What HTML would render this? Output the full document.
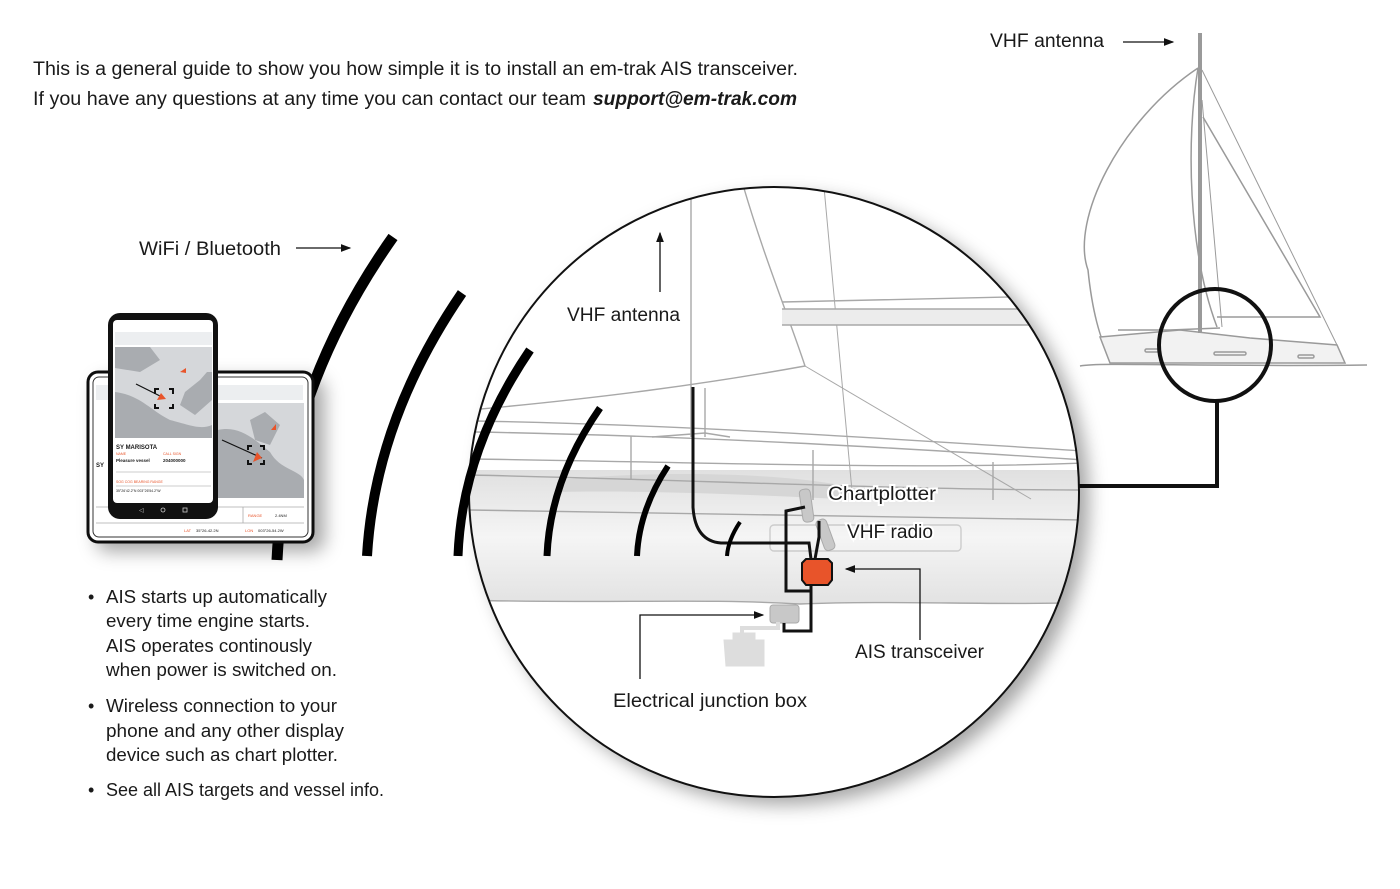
<!DOCTYPE html>
<html><head><meta charset="utf-8"><style>
html,body{margin:0;padding:0;background:#fff;}
svg{display:block;}
text{font-family:"Liberation Sans",sans-serif;fill:#1a1a1a;}
</style></head><body>
<svg width="1400" height="889" viewBox="0 0 1400 889" xmlns="http://www.w3.org/2000/svg">
<defs>
<clipPath id="cc"><circle cx="774" cy="492" r="305"/></clipPath>
<filter id="sh" x="-20%" y="-20%" width="150%" height="150%"><feDropShadow dx="10" dy="8" stdDeviation="9" flood-color="#000" flood-opacity="0.35"/></filter>
<linearGradient id="hull" x1="0" y1="0" x2="0" y2="1"><stop offset="0" stop-color="#e0e0e0"/><stop offset="0.5" stop-color="#f5f5f5"/><stop offset="1" stop-color="#e2e2e2"/></linearGradient>
<marker id="ah" markerWidth="8" markerHeight="6" refX="7" refY="3" orient="auto"><path d="M0,0 L8,3 L0,6z" fill="#111"/></marker>
</defs>

<text x="33" y="75" font-size="19" textLength="765" lengthAdjust="spacingAndGlyphs">This is a general guide to show you how simple it is to install an em-trak AIS transceiver.</text>
<text x="33" y="105" font-size="19" textLength="553" lengthAdjust="spacingAndGlyphs">If you have any questions at any time you can contact our team</text>
<text x="593" y="105" font-size="19" font-weight="bold" font-style="italic" textLength="204" lengthAdjust="spacingAndGlyphs">support@em-trak.com</text>

<text x="990" y="47" font-size="19" textLength="114" lengthAdjust="spacingAndGlyphs">VHF antenna</text>
<line x1="1123" y1="42" x2="1173" y2="42" stroke="#111" stroke-width="1.3" marker-end="url(#ah)"/>
<g fill="none" stroke="#9a9a9a" stroke-width="1.5">
<path d="M1198,68 C1120,120 1070,220 1088,270 C1092,310 1100,340 1110,357"/>
<path d="M1198,68 C1186,140 1188,250 1217,327"/>
<path d="M1203,117 L1320,317 L1217,317"/>
<path d="M1202,70 L1337,345" stroke-width="1"/>
<path d="M1202,100 L1222,327" stroke-width="1"/>
<path d="M1100,337 L1180,330 L1250,338 L1337,345 L1345,363 L1110,363 Z" fill="#f2f2f2"/>
<path d="M1118,330 L1170,330 L1220,328" />
<path d="M1080,366 C1100,362 1200,367 1367,365"/>
<rect x="1145" y="349" width="15" height="3" rx="1.5"/>
<rect x="1214" y="352" width="32" height="3" rx="1.5"/>
<rect x="1298" y="355" width="16" height="3" rx="1.5"/>
</g>
<rect x="1198" y="33" width="4" height="300" fill="#9a9a9a"/>
<circle cx="1215" cy="345" r="56" fill="none" stroke="#111" stroke-width="4"/>
<path d="M1217,401 L1217,486 L1070,486" fill="none" stroke="#111" stroke-width="4"/>

<circle cx="774" cy="492" r="305" fill="#fff" filter="url(#sh)"/>
<g clip-path="url(#cc)">
  <rect x="460" y="470" width="640" height="135" fill="url(#hull)"/>
  <path d="M460,600 C600,604 700,598 800,604 C900,600 1000,606 1100,602 L1100,800 L460,800Z" fill="#fff"/>
  <path d="M560,480 C650,470 800,472 860,490 L860,500 C760,495 640,490 560,492Z" fill="#d6d6d6"/>
  <g fill="none" stroke="#a8a8a8" stroke-width="1.4">
    <path d="M460,600 C600,604 700,598 800,604 C900,600 1000,606 1100,602"/>
    <path d="M476,421 C700,425 900,440 1085,451"/>
    <path d="M476,432 C700,436 900,448 1085,460"/>
    <path d="M470,459 C700,462 900,470 1085,463"/>
    <path d="M470,475 C700,480 900,490 1085,490"/>
    <path d="M470,510 C700,512 900,518 1085,520"/>
    <line x1="631" y1="436" x2="631" y2="480"/>
    <line x1="813" y1="450" x2="813" y2="500"/>
    <line x1="993" y1="462" x2="993" y2="500"/>
    <line x1="691" y1="180" x2="691" y2="437"/>
    <line x1="705" y1="388" x2="705" y2="437"/>
    <path d="M652,437 L705,433 L730,437"/>
    <path d="M743,185 C765,260 790,320 805,366 C700,385 600,398 470,410"/>
    <path d="M824,187 L852,491" stroke-width="1"/>
    <path d="M805,366 L1031,499" stroke-width="1"/>
    <rect x="770" y="525" width="191" height="26" rx="4" stroke="#ccc"/>
  </g>
  <rect x="782" y="309" width="320" height="16" fill="#ececec"/>
  <path d="M782,302 L1100,295 M782,309 L1100,309 M782,325 L1100,325" stroke="#a8a8a8" stroke-width="1.4" fill="none"/>
</g>
<circle cx="774" cy="492" r="305" fill="none" stroke="#111" stroke-width="2"/>

<g fill="#c8c8c8" stroke="#aaa" stroke-width="1">
  <rect x="801" y="489" width="11" height="33" rx="4" transform="rotate(-8 807 505)"/>
  <rect x="820" y="519" width="11" height="32" rx="4" transform="rotate(-20 825 535)"/>
  <rect x="770" y="605" width="29" height="18" rx="3"/>
  <path d="M724,640 L764,640 L764,666 L726,666 Z" fill="#ddd" stroke="#ddd"/>
  <rect x="733" y="633" width="22" height="7" fill="#ddd" stroke="#ddd"/>
  <path d="M742,633 L742,628 L778,628 L778,622" fill="none" stroke="#ddd" stroke-width="4"/>
</g>
<g fill="none" stroke="#111" stroke-width="3">
  <path d="M693,387 L693,507 Q695,541 721,543 L809,543 L811,559"/>
  <path d="M805,507 L786,511 L786,591 L811,591"/>
  <path d="M819,521 L819,537 L815,559"/>
  <path d="M811,583 L811,631 L784,631 L784,623"/>
</g>
<path d="M802,563 L806,559 L828,559 L832,563 L832,580 L828,585 L806,585 L802,580Z" fill="#e8542a" stroke="#111" stroke-width="2"/>

<text x="567" y="321" font-size="19" textLength="113" lengthAdjust="spacingAndGlyphs">VHF antenna</text>
<line x1="660" y1="292" x2="660" y2="233" stroke="#111" stroke-width="1.3" marker-end="url(#ah)"/>
<text x="828" y="500" font-size="19" textLength="108" lengthAdjust="spacingAndGlyphs" stroke="#fff" stroke-width="4" paint-order="stroke">Chartplotter</text>
<text x="847" y="538" font-size="19" textLength="86" lengthAdjust="spacingAndGlyphs" stroke="#fff" stroke-width="4" paint-order="stroke">VHF radio</text>
<text x="855" y="658" font-size="19" textLength="129" lengthAdjust="spacingAndGlyphs">AIS transceiver</text>
<path d="M920,640 L920,569 L846,569" fill="none" stroke="#111" stroke-width="1.3" marker-end="url(#ah)"/>
<text x="613" y="707" font-size="19" textLength="194" lengthAdjust="spacingAndGlyphs">Electrical junction box</text>
<path d="M640,679 L640,615 L763,615" fill="none" stroke="#111" stroke-width="1.3" marker-end="url(#ah)"/>

<g fill="none" stroke="#000" stroke-linecap="butt">
  <path d="M393,237 Q285,390 277,560" stroke-width="11"/>
  <path d="M462,293 Q375,420 367,556" stroke-width="10"/>
  <path d="M530,350 Q462,450 458,556" stroke-width="9"/>
  <path d="M600,408 Q550,480 547,556" stroke-width="7"/>
  <path d="M668,466 Q639,510 637,556" stroke-width="6"/>
  <path d="M740,522 Q728,540 727,556" stroke-width="4"/>
</g>
<text x="139" y="255" font-size="19" textLength="142" lengthAdjust="spacingAndGlyphs">WiFi / Bluetooth</text>
<line x1="296" y1="248" x2="350" y2="248" stroke="#111" stroke-width="1.3" marker-end="url(#ah)"/>

<g>
  <rect x="88" y="372" width="225" height="170" rx="10" fill="#fff" stroke="#111" stroke-width="3" filter="url(#sh)"/>
  <rect x="93" y="377" width="215" height="160" rx="6" fill="#fff" stroke="#333" stroke-width="1"/>
  <rect x="96" y="385" width="207" height="15" fill="#eceef0"/>
  <rect x="218" y="403" width="86" height="95" fill="#d5d7da"/>
  <path d="M218,430 C240,425 255,440 270,452 C280,470 300,470 304,480 L304,498 L218,498Z" fill="#a9acb0"/>
  <path d="M250,420 L265,412 L280,425 L270,445 L255,440Z" fill="#a9acb0"/>
  <path d="M222,440 L262,458" stroke="#111" stroke-width="1.2"/>
  <path d="M253,462 L262,458 L257,452Z" fill="#e8542a"/>
  <path d="M271,430 L276,424 L276,430Z" fill="#e8542a"/>
  <path d="M248,450 v-4 h4 M260,446 h4 v4 M264,460 v4 h-4 M252,464 h-4 v-4" fill="none" stroke="#111" stroke-width="2"/>
  <line x1="96" y1="507" x2="304" y2="507" stroke="#aaa" stroke-width="0.8"/>
  <line x1="96" y1="523" x2="304" y2="523" stroke="#aaa" stroke-width="0.8"/>
  <line x1="243" y1="507" x2="243" y2="523" stroke="#aaa" stroke-width="0.8"/>
  <text x="248" y="517" font-size="4" style="fill:#e8542a">RANGE</text>
  <text x="275" y="517" font-size="4">2.4NM</text>
  <text x="184" y="532" font-size="4" style="fill:#e8542a">LAT</text>
  <text x="196" y="532" font-size="4">35°26-42.2N</text>
  <text x="245" y="532" font-size="4" style="fill:#e8542a">LON</text>
  <text x="258" y="532" font-size="4">003°26-54.2W</text>
  <text x="96" y="467" font-size="6" font-weight="bold">SY</text>
</g>
<g>
  <rect x="108" y="313" width="110" height="206" rx="12" fill="#111"/>
  <rect x="113" y="320" width="100" height="183" rx="4" fill="#fff"/>
  <rect x="115" y="332" width="97" height="13" fill="#eceef0"/>
  <rect x="115" y="347" width="97" height="91" fill="#d5d7da"/>
  <path d="M115,347 L150,347 L160,360 L140,372 L115,368Z" fill="#a9acb0"/>
  <path d="M115,392 C140,395 150,410 170,420 C190,425 200,430 212,425 L212,438 L115,438Z" fill="#a9acb0"/>
  <path d="M185,392 L200,380 L207,372 L212,372 L212,400 L195,415 L180,405Z" fill="#a9acb0"/>
  <path d="M136,384 L164,398" stroke="#111" stroke-width="1.2"/>
  <path d="M157,400 L166,399 L161,393Z" fill="#e8542a"/>
  <path d="M180,372 L186,368 L186,373Z" fill="#e8542a"/>
  <path d="M155,394 v-5 h4 M169,389 h4 v5 M173,404 v4 h-4 M159,408 h-4 v-4" fill="none" stroke="#111" stroke-width="2"/>
  <text x="116" y="449" font-size="6" font-weight="bold">SY MARISOTA</text>
  <text x="116" y="455" font-size="3.5" style="fill:#e8542a">NAME</text>
  <text x="163" y="455" font-size="3.5" style="fill:#e8542a">CALL SIGN</text>
  <text x="116" y="462" font-size="4.5" font-weight="bold">Pleasure vessel</text>
  <text x="163" y="462" font-size="4.5" font-weight="bold">204000000</text>
  <line x1="116" y1="472" x2="211" y2="472" stroke="#999" stroke-width="0.6"/>
  <line x1="116" y1="486" x2="211" y2="486" stroke="#999" stroke-width="0.6"/>
  <text x="116" y="483" font-size="3.5" style="fill:#e8542a">SOG   COG   BEARING   RANGE</text>
  <text x="116" y="492" font-size="3.5">35°26'42.2"N       003°26'54.2"W</text>
  <rect x="113" y="503" width="100" height="13" fill="#111"/>
  <text x="139" y="512" font-size="6" style="fill:#ccc">◁</text>
  <circle cx="163" cy="510" r="2" fill="none" stroke="#ccc" stroke-width="0.8"/>
  <rect x="183" y="508" width="4" height="4" fill="none" stroke="#ccc" stroke-width="0.8"/>
</g>

<g font-size="18">
<text x="88" y="603">•</text>
<text x="106" y="603" textLength="221" lengthAdjust="spacingAndGlyphs">AIS starts up automatically</text>
<text x="106" y="627" textLength="204" lengthAdjust="spacingAndGlyphs">every time engine starts.</text>
<text x="106" y="652" textLength="206" lengthAdjust="spacingAndGlyphs">AIS operates continously</text>
<text x="106" y="676" textLength="231" lengthAdjust="spacingAndGlyphs">when power is switched on.</text>
<text x="88" y="712">•</text>
<text x="106" y="712" textLength="231" lengthAdjust="spacingAndGlyphs">Wireless connection to your</text>
<text x="106" y="737" textLength="238" lengthAdjust="spacingAndGlyphs">phone and any other display</text>
<text x="106" y="761" textLength="232" lengthAdjust="spacingAndGlyphs">device such as chart plotter.</text>
<text x="88" y="796">•</text>
<text x="106" y="796" textLength="278" lengthAdjust="spacingAndGlyphs">See all AIS targets and vessel info.</text>
</g>
</svg>
</body></html>
